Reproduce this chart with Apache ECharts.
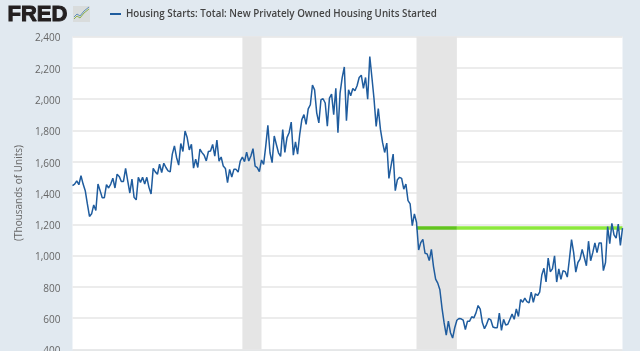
<!DOCTYPE html>
<html><head><meta charset="utf-8">
<style>html,body{margin:0;padding:0;background:#e1e9f0}#c{width:640px;height:351px}</style>
<script src="https://cdn.jsdelivr.net/npm/echarts@6/dist/echarts.min.js"></script>
</head><body><div id="c"></div>
<script>
const title = 'Housing Starts: Total: New Privately Owned Housing Units Started';
const startsA = [1447,1457,1478,1453,1510,1457,1415,1330,1250,1267,1324,1288,1457,1415,1370,1370,1453,1432,1457,1495,1432,1520,1506,1474,1474,1557,1478,1400,1489,1372,1356,1500];
const startsB = [1468,1500,1457,1500,1436,1394,1557,1535,1520,1584,1531,1590,1563,1541,1535,1648,1701,1627,1578,1716,1665,1796,1754,1675,1711,1559,1616,1563,1680,1658,1641,1605,1665];
const startsC = [1668,1710,1636,1738,1604,1630,1572,1557,1466,1551,1502,1551,1551,1534,1604,1630,1600,1661,1604,1636,1683,1572,1562,1536,1611,1583,1700,1832,1657,1594,1764,1710,1657];
const startsD = [1634,1806,1659,1754,1785,1853,1642,1726,1648,1775,1869,1901,1838,1937,1964,2090,2059,1912,1848,1996,2002,1975,1827,2006,2032,1901,2069,1785,2038,2137,2205,1862,2059];
const startsE = [2021,2068,2053,2085,2138,2153,2068,2138,2000,2272,2138,2000,1825,1940,1808,1723,1659,1719,1493,1574,1649,1415,1485,1500,1493,1425,1457,1351,1330,1191,1266,1213];
const startsF = [1036,1083,1104,1015,1011,968,1040,930,850,824,782,665,570,492,581,507,473,539,587,598,596,587,528,581,581,609,602,634,681];
const startsG = [658,572,533,561,598,589,544,539,539,632,522,593,557,561,593,626,593,659,611,719,702,728,706,698,767,702,756,745,767,876,919,832,984,897];
const startsH = [915,998,831,915,848,904,898,863,977,1102,1019,894,956,977,1040,988,935,1092,967,1019,1081,1019,1081,1081,904,956,1185,1077,1206,1133,1112,1202,1065,1175];
const starts = [...startsA,...startsB,...startsC,...startsD,...startsE,...startsF,...startsG,...startsH];
const firstYear = 1994, firstMonth = 6;
const months = starts.map((_, i) => {
  const t = firstYear * 12 + firstMonth - 1 + i;
  return Math.floor(t / 12) + '-' + String(t % 12 + 1).padStart(2, '0');
});
const recessions = [['2001-02','2001-11'],['2007-12','2009-07']];
const greenLevel = 1175;
const greenStart = '2007-12', greenBandEnd = '2009-07';

const chart = echarts.init(document.getElementById('c'), null, {renderer:'canvas'});
chart.setOption({
  animation:false,
  backgroundColor:'#e1e9f0',
  textStyle:{fontFamily:'"Open Sans"'},
  grid:{left:72.5,right:17.5,top:36.5,bottom:1.5,backgroundColor:'#fff',show:true,borderWidth:0,outerBoundsMode:'none'},
  legend:{show:true,left:105,top:4,itemWidth:11,itemHeight:2,itemGap:5,
    icon:'rect',data:[title],
    textStyle:{color:'#444',fontSize:9.8,fontWeight:600,fontFamily:'"Open Sans"'}},
  xAxis:{type:'category',data:months,boundaryGap:false,
    axisLine:{show:false},axisTick:{show:false},axisLabel:{show:false},splitLine:{show:false}},
  yAxis:{type:'value',min:400,max:2400,interval:200,
    name:'(Thousands of Units)',nameLocation:'middle',nameGap:47,
    nameTextStyle:{color:'#666',fontSize:10},
    axisLine:{show:false},axisTick:{show:false},
    axisLabel:{color:'#666',fontSize:10,margin:12,
      formatter:v=>'{a|'+v.toLocaleString('en-US')+'}',
      rich:{a:{color:'#666',fontSize:10,padding:[4,0,0,0]}}},
    splitLine:{show:true,lineStyle:{color:'#e6e6e6',width:1.5}}},
  series:[{
    name:title,type:'line',data:starts,showSymbol:false,smooth:false,z:5,
    lineStyle:{color:'#1f5c9e',width:1.5},itemStyle:{color:'#1f5c9e'},
    markArea:{silent:true,z:1,itemStyle:{color:'#e5e5e5'},
      data:recessions.map(r=>[{xAxis:r[0]},{xAxis:r[1]}])},
    markLine:{silent:true,symbol:'none',label:{show:false},z:4,
      lineStyle:{type:'solid',width:3.5,color:'#8ce83c'},
      data:[
        [{coord:[greenBandEnd,greenLevel]},{coord:[months[months.length-1],greenLevel]}],
        [{coord:[greenStart,greenLevel],lineStyle:{color:'#62c41e',type:'solid',width:3.5}},
         {coord:[greenBandEnd,greenLevel]}]
      ]}
  }],
  graphic:[
    {type:'text',left:7,top:3,silent:true,style:{text:'FRED',font:'900 22px "Liberation Sans"',fill:'#231f20',stroke:'#231f20',lineWidth:1}},
    {type:'rect',silent:true,shape:{x:73,y:6,width:17,height:16},style:{fill:'#d9dcdc'}},
    {type:'polyline',silent:true,shape:{points:[[74,19],[77,16],[80,18],[84,13],[89,9]]},style:{stroke:'#8db04c',fill:null,lineWidth:1}},
    {type:'polyline',silent:true,shape:{points:[[74,17],[77,14],[80,16],[84,11],[89,7]]},style:{stroke:'#5f8fb8',fill:null,lineWidth:1}}
  ]
});
</script></body></html>
